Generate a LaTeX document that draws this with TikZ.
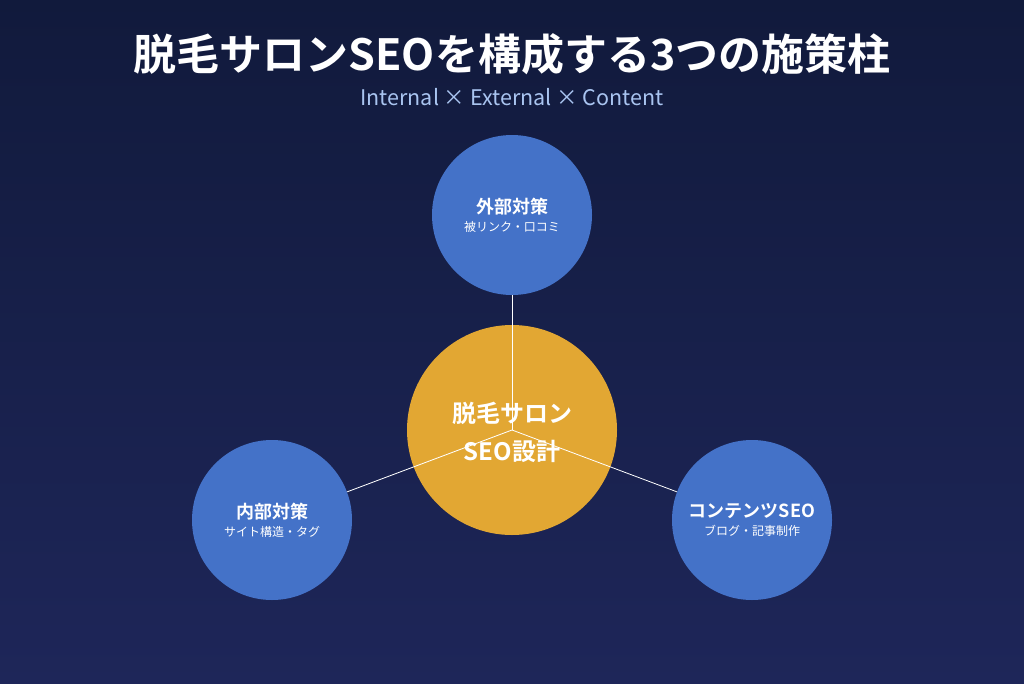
\documentclass[tikz,border=0pt]{standalone}
\usepackage{fontspec}
\newfontfamily\cjk{Noto Sans CJK JP}
\newfontfamily\cjkb{Noto Sans CJK JP Bold}
\definecolor{bgtop}{HTML}{111A3C}
\definecolor{bgbot}{HTML}{1E2659}
\definecolor{pillar}{HTML}{4472C8}
\definecolor{core}{HTML}{E2A733}
\definecolor{subblue}{HTML}{A9C4F0}
\tikzset{
  pillarnode/.style={circle, fill=pillar, minimum size=160pt, inner sep=0pt, align=center, text=white},
  corenode/.style={circle, fill=core, minimum size=210pt, inner sep=0pt, align=center, text=white},
  spoke/.style={draw=white, line width=0.8pt}
}
\begin{document}
\begin{tikzpicture}[x=1pt,y=-1pt]
\shade[top color=bgtop, bottom color=bgbot] (0,0) rectangle (1024,683);
\useasboundingbox (0,0) rectangle (1024,683);
\node[text=white] (title) at (512,54) {\cjkb\fontsize{43}{48}\selectfont 脱毛サロンSEOを構成する3つの施策柱};
\node[text=subblue] (sub) at (512,97) {\cjk\fontsize{21.5}{24}\selectfont Internal × External × Content};
\node[corenode] (core) at (512,430) {};
\node[pillarnode] (ext) at (512,215) {{\cjkb\fontsize{18}{22}\selectfont 外部対策}\\[6pt]{\cjk\fontsize{12}{14}\selectfont 被リンク・口コミ}};
\node[pillarnode] (int) at (272,520) {{\cjkb\fontsize{18}{22}\selectfont 内部対策}\\[6pt]{\cjk\fontsize{12}{14}\selectfont サイト構造・タグ}};
\node[pillarnode] (cont) at (752,520) {{\cjkb\fontsize{18}{22}\selectfont コンテンツSEO}\\[6pt]{\cjk\fontsize{12}{14}\selectfont ブログ・記事制作}};
\coordinate (hub) at (512,430);
\draw[spoke] (ext) -- (hub);
\draw[spoke] (int) -- (hub);
\draw[spoke] (cont) -- (hub);
\node[text=white, align=center, font=\cjkb\fontsize{24}{38}\selectfont] (coretext) at (512,432) {脱毛サロン\\SEO設計};
\end{tikzpicture}
\end{document}
